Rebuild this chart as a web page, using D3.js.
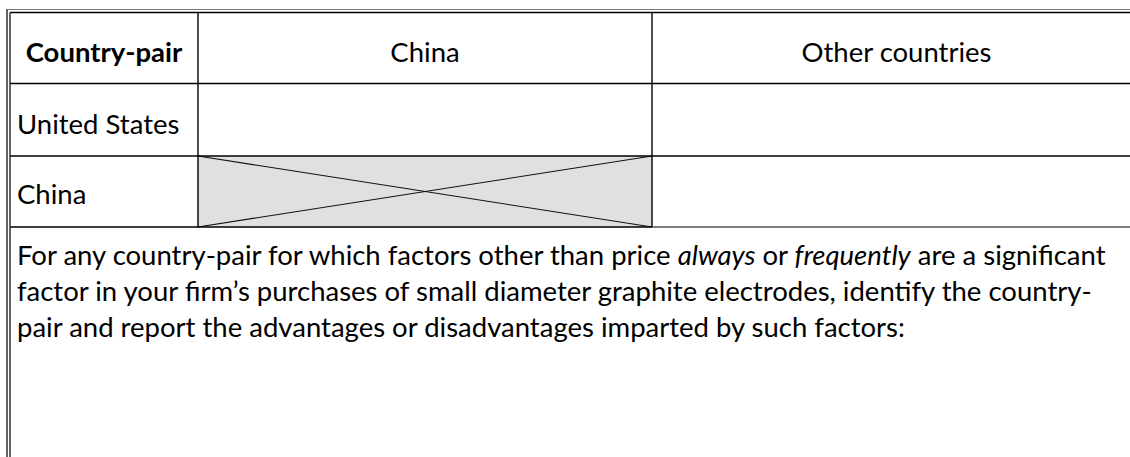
<!DOCTYPE html>
<html>
<head>
<meta charset="utf-8">
<script src="https://cdn.jsdelivr.net/npm/d3@7"></script>
<style>
  html, body { margin: 0; padding: 0; background: #fff; }
  svg { display: block; }
</style>
</head>
<body>
<svg id="chart" width="1130" height="457"></svg>
<script>
// ---- data ----
const headers = ["Country-pair", "China", "Other countries"];
const rowLabels = ["United States", "China"];
const shadedCells = [{ row: "China", col: "China" }];
const noteSegments = [
  [{ t: "For any country-pair for which factors other than price ", i: false },
   { t: "always", i: true }, { t: " or ", i: false },
   { t: "frequently", i: true }, { t: " are a significant", i: false }],
  [{ t: "factor in your firm\u2019s purchases of small diameter graphite electrodes, identify the country-", i: false }],
  [{ t: "pair and report the advantages or disadvantages imparted by such factors:", i: false }]
];

// ---- layout ----
const W = 1130, H = 457;
const FONT = "Lato, 'Open Sans', sans-serif";
const FS = 27.5;
const svg = d3.select("#chart");

const colX = d3.scaleOrdinal().domain(headers).range([10, 198, 652]);
const colEnd = d3.scaleOrdinal().domain(headers).range([198, 652, 1141]);
const rowKeys = ["__header"].concat(rowLabels);
const rowY = d3.scaleOrdinal().domain(rowKeys).range([12.5, 83.5, 156]);
const rowEnd = d3.scaleOrdinal().domain(rowKeys).range([83.5, 156, 227]);
const baselineOffset = { "__header": 49.5, "United States": 50, "China": 48 };

// shaded cells
shadedCells.forEach(c => {
  const x0 = colX(c.col), x1 = colEnd(c.col), y0 = rowY(c.row), y1 = rowEnd(c.row);
  svg.append("rect").attr("x", x0).attr("y", y0).attr("width", x1 - x0).attr("height", y1 - y0)
    .attr("fill", "#e0e0e0");
  svg.append("line").attr("x1", x0).attr("y1", y0).attr("x2", x1).attr("y2", y1)
    .attr("stroke", "#111").attr("stroke-width", 1.1);
  svg.append("line").attr("x1", x0).attr("y1", y1).attr("x2", x1).attr("y2", y0)
    .attr("stroke", "#111").attr("stroke-width", 1.1);
});

// grid lines
const g = svg.append("g").attr("stroke", "#000").attr("stroke-width", 1.4).attr("fill", "none");
// outer frame (double)
svg.append("line").attr("x1", 6.5).attr("x2", W).attr("y1", 9.5).attr("y2", 9.5)
  .attr("stroke", "#777").attr("stroke-width", 1);
svg.append("line").attr("x1", 7).attr("x2", 7).attr("y1", 9.5).attr("y2", H)
  .attr("stroke", "#222").attr("stroke-width", 1.4);
svg.append("line").attr("x1", 10).attr("x2", 10).attr("y1", 12.5).attr("y2", H)
  .attr("stroke", "#222").attr("stroke-width", 1.4);
// horizontal row boundaries
g.append("line").attr("x1", 10).attr("x2", W).attr("y1", 12.5).attr("y2", 12.5);
rowLabels.forEach(r => {
  g.append("line").attr("x1", 10).attr("x2", W).attr("y1", rowY(r)).attr("y2", rowY(r));
});
g.append("line").attr("x1", 10).attr("x2", 652).attr("y1", 227).attr("y2", 227);
g.append("line").attr("x1", 652).attr("x2", W).attr("y1", 227).attr("y2", 227)
  .attr("stroke", "#555").attr("stroke-width", 1.4);
// vertical column boundaries
headers.slice(1).forEach(h => {
  g.append("line").attr("x1", colX(h)).attr("x2", colX(h)).attr("y1", 12.5).attr("y2", 227);
});

// header text
headers.forEach((h, i) => {
  svg.append("text")
    .attr("x", (colX(h) + colEnd(h)) / 2)
    .attr("y", rowY("__header") + baselineOffset["__header"])
    .attr("text-anchor", "middle")
    .attr("font-family", FONT).attr("font-size", FS)
    .attr("font-weight", i === 0 ? "bold" : "normal")
    .attr("fill", "#000")
    .text(h);
});
// row labels
rowLabels.forEach(r => {
  svg.append("text")
    .attr("x", 17)
    .attr("y", rowY(r) + baselineOffset[r])
    .attr("font-family", FONT).attr("font-size", FS)
    .attr("fill", "#000")
    .text(r);
});

// note paragraph
const lineY = d3.scaleLinear().domain([0, 1]).range([265, 301]);
noteSegments.forEach((segs, li) => {
  const t = svg.append("text").attr("x", 17).attr("y", lineY(li))
    .attr("font-family", FONT).attr("font-size", FS).attr("fill", "#000");
  t.selectAll("tspan").data(segs).join("tspan")
    .attr("font-style", d => d.i ? "italic" : "normal")
    .attr("xml:space", "preserve")
    .text(d => d.t);
});
</script>
</body>
</html>
